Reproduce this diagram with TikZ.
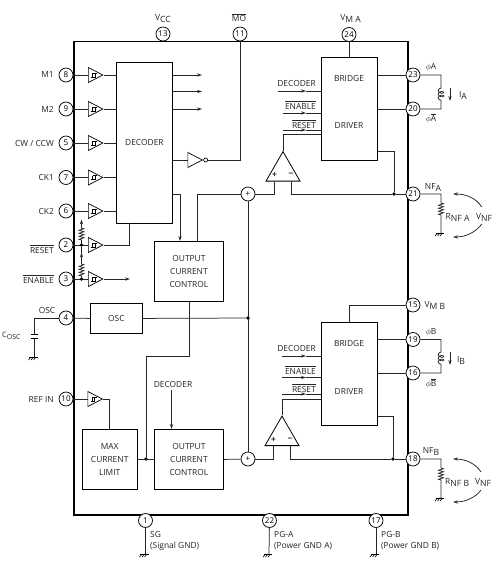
\documentclass[tikz,border=0pt]{standalone}
\usepackage{fontspec}
\setmainfont{Open Sans}
\usetikzlibrary{arrows.meta,shapes.geometric,decorations.pathmorphing}
\newcommand{\ol}[1]{$\overline{\mbox{#1}}$}
\newcommand{\subd}[1]{\raisebox{-2pt}{\fontsize{8.6}{9}\selectfont #1}}
\tikzset{
  wire/.style={line width=0.75pt,draw=black!85},
  tip/.style={-{Stealth[length=5pt,width=3.2pt]}},
  pinc/.style={circle,draw,line width=0.75pt,fill=white,minimum size=14pt,inner sep=0pt,font=\fontsize{8}{8}\selectfont},
  lbl/.style={font=\fontsize{8.4}{9}\selectfont,inner sep=0pt,text=black!85},
  blockbox/.style={rectangle,draw,line width=0.85pt,anchor=north west,inner sep=0pt,align=center,font=\fontsize{8.4}{12.6}\selectfont,text=black!85},
  bufn/.style={isosceles triangle,isosceles triangle stretches,draw,line width=0.7pt,inner sep=0pt,minimum width=15pt,minimum height=14.5pt,anchor=lower side,fill=white},
  ampn/.style={isosceles triangle,isosceles triangle stretches,shape border rotate=90,draw,line width=0.8pt,inner sep=0pt,minimum width=34pt,minimum height=29.5pt,anchor=lower side},
  sumc/.style={circle,draw,line width=0.75pt,fill=white,minimum size=14pt,inner sep=0pt,font=\fontsize{8}{8}\selectfont},
  dotn/.style={circle,fill=black,minimum size=3.6pt,inner sep=0pt},
  zz/.style={decorate,decoration={zigzag,amplitude=2.4pt,segment length=3pt}},
  cl/.style={decorate,decoration={coil,aspect=0.6,amplitude=2.8pt,segment length=3.6pt,mirror}},
}
\newcommand{\bufat}[3]{%
  \node[bufn] (#1) at (#2,#3) {};
  \draw[line width=0.35pt] (#2+3,#3+2) -- (#2+7.5,#3+2) (#2+4.5,#3+2) -- (#2+4.5,#3-2) (#2+7,#3+2) -- (#2+7,#3-2) (#2+4.5,#3-2) -- (#2+9,#3-2);
}
\newcommand{\gndat}[2]{%
  \draw[line width=0.8pt] (#1-4.5,#2) -- (#1+4,#2);
  \draw[line width=0.6pt] (#1-2.5,#2) -- (#1-5,#2+3) (#1,#2) -- (#1-2.5,#2+3) (#1+2.5,#2) -- (#1,#2+3);
}
\begin{document}
\begin{tikzpicture}[x=1pt,y=-1pt]
\useasboundingbox (0,0) rectangle (497,578);
\fill[white] (0,0) rectangle (497,578);
% package outline
\node[rectangle,draw,line width=1.5pt,anchor=north west,minimum width=334pt,minimum height=473pt,inner sep=0pt] (chip) at (73,41) {};

% blocks
\node[blockbox,minimum width=56pt,minimum height=161pt] (dec) at (116,62) {DECODER};
\node[blockbox,minimum width=69pt,minimum height=60pt] (occA) at (154,241) {OUTPUT\\CURRENT\\CONTROL};
\node[blockbox,minimum width=52pt,minimum height=30pt] (osc) at (90,303) {OSC};
\node[blockbox,minimum width=55.5pt,minimum height=60pt] (mcl) at (81.5,429) {MAX\\CURRENT\\LIMIT};
\node[blockbox,minimum width=69pt,minimum height=60pt] (occB) at (154,429) {OUTPUT\\CURRENT\\CONTROL};
\node[blockbox,minimum width=56pt,minimum height=102.5pt] (brA) at (321,57.5) {};
\node[blockbox,minimum width=56pt,minimum height=103pt] (brB) at (321,322) {};
\node[lbl] (brAa) at (349,78) {BRIDGE};
\node[lbl] (brAb) at (349,126) {DRIVER};
\node[lbl] (brBa) at (349,343) {BRIDGE};
\node[lbl] (brBb) at (349,391) {DRIVER};

% sum junctions
\node[sumc] (sumA) at (248,194) {+};
\node[sumc] (sumB) at (248,459) {+};

% amplifiers
\node[ampn] (ampA) at (283,181.5) {};
\node[ampn] (ampB) at (282,446) {};
\node[lbl] (plA) at (274.5,175) {\textbf{+}};
\node[lbl] (miA) at (291,175) {\textbf{−}};
\node[lbl] (plB) at (273.5,440) {\textbf{+}};
\node[lbl] (miB) at (290,440) {\textbf{−}};

% pins
\foreach \n/\x/\y in {8/66/75,9/66/109,5/66/143,7/66/177.5,6/66/211,2/66/245,3/66/279,4/66/318,10/66/399,
  13/163/34,11/240/34,24/349/34.5,
  23/413/75,20/413/109,21/413/194,15/413/305,19/413/339.5,16/413/373,18/413/459,
  1/145.5/520.5,22/269.5/520.5,17/376/520.5}{
  \node[pinc] (p\n) at (\x,\y) {\n};
}

% input buffers
\bufat{b8}{88}{75}\bufat{b9}{88}{109}\bufat{b5}{88}{143}\bufat{b7}{88}{177.5}\bufat{b6}{88}{211}\bufat{b2}{88}{245}\bufat{b3}{88}{279}
\bufat{b10}{87.5}{399}
\foreach \n in {8,9,5,7,6,2,3,10}{
  \draw[wire] (p\n) -- (b\n.lower side);
}
\foreach \n in {8,9,5,7,6}{
  \draw[wire] (b\n.apex) -- (dec.west |- b\n.apex);
}
\draw[wire] (b2.apex) -| (129,223);
\coordinate (enEnd) at (130,279);
\draw[wire,tip] (b3.apex) -- (enEnd);

% pull-ups
\node[dotn] (dR) at (81.5,245) {};
\node[dotn] (dE) at (81.5,279) {};
\coordinate (upTop) at (81.5,219.5);
\coordinate (upMid) at (81.5,252.5);
\draw[wire,tip] (dR) -- (81.5,240) decorate[zz] {-- (81.5,227)} -- (upTop);
\draw[wire,tip] (dE) -- (81.5,276) decorate[zz] {-- (81.5,263)} -- (upMid);
\draw[wire] (upMid) -- (dR);

% decoder outputs
\foreach \y in {75,91.5,109}{
  \draw[wire,tip] (dec.east |- 0,\y) -- (202,\y);
}
\node[isosceles triangle,isosceles triangle stretches,draw,line width=0.7pt,inner sep=0pt,minimum width=15pt,minimum height=14.5pt,anchor=lower side] (inv) at (187.5,160) {};
\node[circle,draw,line width=0.7pt,inner sep=0pt,minimum size=4pt,anchor=west] (invc) at (inv.apex) {};
\draw[wire] (dec.east |- inv.lower side) -- (inv.lower side);
\draw[wire] (invc) -| (p11);
\draw[wire,tip] (dec.east |- 0,194) -| (occA.north -| 180,0);

% current control / sum
\draw[wire] (occA.north -| 197.5,0) |- (sumA);
\draw[wire] (sumA) -- (sumB);
\draw[wire] (occB.east) -- (sumB);
\node[dotn] (dOsc) at (248,318) {};
\draw[wire] (p4) -- (osc.west);
\draw[wire] (osc.east) -- (dOsc);
\node[dotn] (dL) at (146,459) {};
\draw[wire] (occA.south -| 189,0) -- (189,356) -| (dL);
\draw[wire] (mcl.east) -- (occB.west);
\draw[wire] (b10.apex) -| (mcl.north -| 109,0);
\node[lbl] (decT) at (173,384) {DECODER};
\draw[wire,tip] (171.5,390) -- (occB.north -| 171.5,0);

% bridge A
\draw[wire] (p24) -- (brA.north -| p24);
\draw[wire] (brA.east |- p23) -- (p23);
\draw[wire] (brA.east |- p20) -- (p20);
\node[dotn] (dA) at (394,194) {};
\draw[wire] (brA.east |- 0,151) -| (dA);
\draw[wire] (sumA) -| (plA.north |- ampA.lower side);
\draw[wire] (miA.south |- ampA.lower side) |- (dA);
\draw[wire] (dA) -- (p21);
\draw[wire] (ampA.apex) |- (brA.west |- 0,134);
\foreach \y/\a in {91/278,113/283,130/283}{
  \draw[wire,tip] (\a,\y) -- (306,\y);
  \draw[wire] (306,\y) -- (brA.west |- 0,\y);
}
\node[lbl,anchor=east] (tA1) at (316,83) {DECODER};
\node[lbl,anchor=east] (tA2) at (316,105) {\ol{ENABLE}};
\node[lbl,anchor=east] (tA3) at (316,124) {\ol{RESET}};

% bridge B
\draw[wire] (p15) -| (brB.north -| 349,0);
\draw[wire] (brB.east |- p19) -- (p19);
\draw[wire] (brB.east |- p16) -- (p16);
\node[dotn] (dB) at (393,459) {};
\draw[wire] (brB.east |- 0,416) -| (dB);
\draw[wire] (sumB) -| (plB.north |- ampB.lower side);
\draw[wire] (miB.south |- ampB.lower side) |- (dB);
\draw[wire] (dB) -- (p18);
\draw[wire] (ampB.apex) |- (brB.west |- 0,399);
\foreach \y/\a in {356/282,377.5/282,394/282}{
  \draw[wire,tip] (\a,\y) -- (306,\y);
  \draw[wire] (306,\y) -- (brB.west |- 0,\y);
}
\node[lbl,anchor=east] (tB1) at (316,348) {DECODER};
\node[lbl,anchor=east] (tB2) at (316,370) {\ol{ENABLE}};
\node[lbl,anchor=east] (tB3) at (316,388) {\ol{RESET}};

% left labels
\node[lbl,anchor=east] at (54,75) {M1};
\node[lbl,anchor=east] at (54,109) {M2};
\node[lbl,anchor=east] at (54,143) {CW / CCW};
\node[lbl,anchor=east] at (54,177.5) {CK1};
\node[lbl,anchor=east] at (54,211) {CK2};
\node[lbl,anchor=east] at (54,249) {\ol{RESET}};
\node[lbl,anchor=east] at (54,279) {\ol{ENABLE}};
\node[lbl,anchor=east] at (54,399) {REF IN};
\node[lbl] at (47,310) {OSC};
\node[lbl,anchor=west] at (2,336) {\fontsize{7.5}{8}\selectfont C\subd{\fontsize{7}{8}\selectfont OSC}};

% osc capacitor
\coordinate (cT) at (34,334.5);
\coordinate (cB) at (34,338.5);
\coordinate (gO) at (34,357);
\draw[wire] (p4) -| (cT) (cB) -- (gO);
\draw[line width=1.1pt] (30.5,334.5) -- (37.5,334.5) (30.5,338.5) -- (37.5,338.5);
\gndat{33.5}{357}

% top labels
\node[lbl] at (163,18.5) {V\subd{CC}};
\node[lbl] at (239,17.5) {\ol{MO}};
\node[lbl] at (350.5,18.5) {V\subd{M A}};
\node[lbl,anchor=west] at (424.5,305) {V\subd{M B}};

% phase A external
\coordinate (eA1) at (441,75);
\coordinate (eA2) at (441,109);
\draw[wire] (p23) -- (eA1) -- (441,88) decorate[cl] {-- (441,101)} -- (eA2) -- (p20);
\draw[wire,tip] (450,88) -- (450,101);
\node[lbl] at (431,67) {$\phi$A};
\node[lbl] at (431,118) {$\phi\overline{\mbox{A}}$};
\node[lbl] at (463,96) {I\subd{A}};
\node[lbl] at (433,187) {NF\subd{A}};
% NF A
\coordinate (nA) at (441,194);
\draw[wire] (p21) -- (nA) -- (441,203) decorate[zz] {-- (441,216)} -- (441,233);
\gndat{440}{233}
\node[lbl,anchor=west] at (445.5,217) {R\subd{NF A}};
\node[lbl,anchor=west] at (476,217) {V\subd{NF}};
\draw[wire,tip] (481.7,207) .. controls (476,198) and (466,194) .. (453,194);
\draw[wire,tip] (481.7,224) .. controls (476,232) and (466,237) .. (453,237);

% phase B external
\coordinate (eB1) at (441,339.5);
\coordinate (eB2) at (441,373);
\draw[wire] (p19) -- (eB1) -- (441,352) decorate[cl] {-- (441,365)} -- (eB2) -- (p16);
\draw[wire,tip] (450,352) -- (450,365);
\node[lbl] at (431,332) {$\phi$B};
\node[lbl] at (431,383) {$\phi\overline{\mbox{B}}$};
\node[lbl] at (461,360) {I\subd{B}};
\node[lbl] at (431,451) {NF\subd{B}};
% NF B
\coordinate (nB) at (441,459);
\draw[wire] (p18) -- (nB) -- (441,468) decorate[zz] {-- (441,481)} -- (441,498);
\gndat{440}{498}
\node[lbl,anchor=west] at (445,482) {R\subd{NF B}};
\node[lbl,anchor=west] at (475,482) {V\subd{NF}};
\draw[wire,tip] (481,472) .. controls (476,464) and (466,459) .. (453,459);
\draw[wire,tip] (481,490) .. controls (476,497) and (466,502) .. (453,502);

% bottom grounds
\coordinate (g1) at (145.5,554);
\coordinate (g22) at (269,554);
\coordinate (g17) at (376,554);
\draw[wire] (p1) -- (g1);
\draw[wire] (p22) -- (g22);
\draw[wire] (p17) -- (g17);
\gndat{144.5}{554}\gndat{268}{554}\gndat{375}{554}
\node[lbl,anchor=west] at (150,534) {SG};
\node[lbl,anchor=west] at (150,546.5) {(Signal GND)};
\node[lbl,anchor=west] at (274,534) {PG-A};
\node[lbl,anchor=west] at (274,546.5) {(Power GND A)};
\node[lbl,anchor=west] at (381,534) {PG-B};
\node[lbl,anchor=west] at (381,546.5) {(Power GND B)};
\end{tikzpicture}
\end{document}
